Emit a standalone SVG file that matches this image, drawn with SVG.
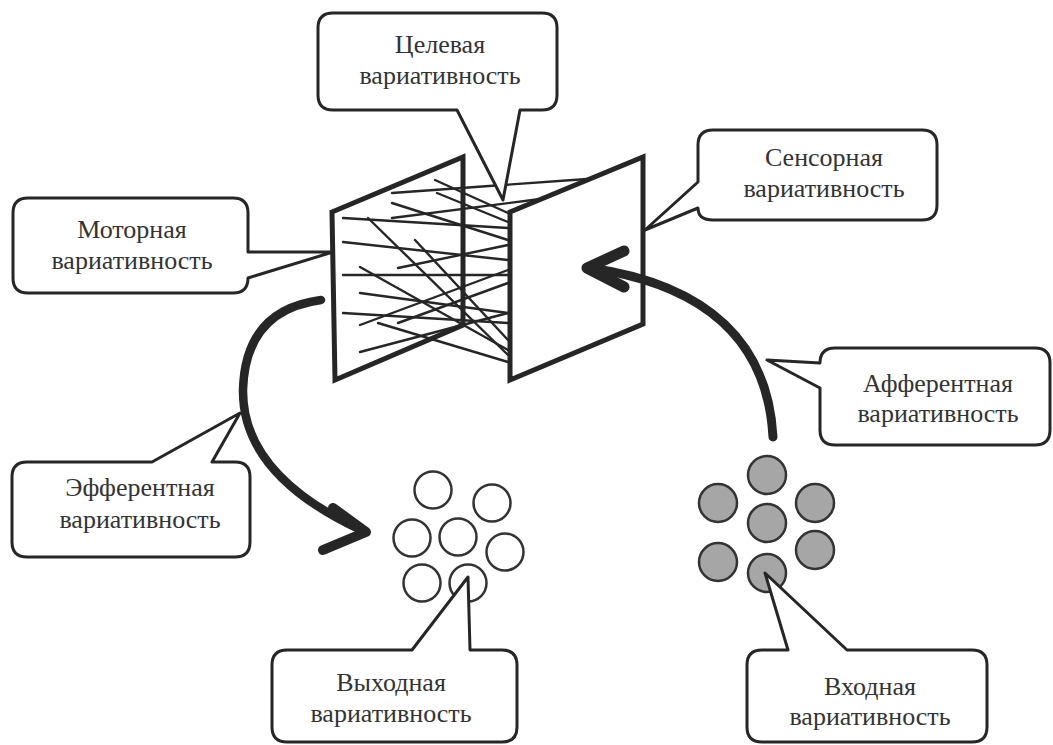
<svg xmlns="http://www.w3.org/2000/svg" width="1053" height="745" viewBox="0 0 1053 745">
<style>
.bg{fill:#ffffff}
.call{fill:#ffffff;stroke:#262626;stroke-width:3;stroke-linejoin:round}
.lbl{font-family:"Liberation Serif","Times New Roman",serif;font-size:26px;fill:#333333;text-anchor:middle}
.panel{fill:none;stroke:#262626;stroke-width:5;stroke-linejoin:miter}
.panelw{fill:#ffffff;stroke:#262626;stroke-width:5;stroke-linejoin:miter}
.thin{stroke:#262626;stroke-width:2.4;fill:none;stroke-linecap:round}
.thick{stroke:#262626;fill:none;stroke-linecap:round;stroke-linejoin:round}
.cw{fill:#ffffff;stroke:#333333;stroke-width:2.5}
.cg{fill:#a6a6a6;stroke:#333333;stroke-width:2.5}
</style>
<rect class="bg" x="0" y="0" width="1053" height="745"/>

<g id="right-panel">
<polygon class="panelw" points="510,212 643,157 643,324 510,380"/>
</g>

<g id="left-panel">
<polygon class="panel" points="332,212 463,157 463,325 335,380"/>
</g>

<g id="connections">
<g id="fibers">
<line class="thin" x1="435" y1="180" x2="508" y2="213"/>
<line class="thin" x1="392" y1="193" x2="587" y2="179"/>
<line class="thin" x1="437" y1="193" x2="508" y2="222"/>
<line class="thin" x1="392" y1="203" x2="508" y2="240"/>
<line class="thin" x1="343" y1="218" x2="508" y2="228"/>
<line class="thin" x1="392" y1="218" x2="540" y2="199"/>
<line class="thin" x1="343" y1="242" x2="508" y2="260"/>
<line class="thin" x1="368" y1="218" x2="508" y2="355"/>
<line class="thin" x1="398" y1="268" x2="508" y2="245"/>
<line class="thin" x1="360" y1="267" x2="508" y2="350"/>
<line class="thin" x1="343" y1="275" x2="508" y2="275"/>
<line class="thin" x1="360" y1="293" x2="508" y2="313"/>
<line class="thin" x1="360" y1="325" x2="508" y2="270"/>
<line class="thin" x1="343" y1="313" x2="508" y2="323"/>
<line class="thin" x1="378" y1="323" x2="508" y2="362"/>
<line class="thin" x1="360" y1="352" x2="508" y2="313"/>
<line class="thin" x1="398" y1="323" x2="508" y2="283"/>
<line class="thin" x1="415" y1="240" x2="508" y2="340"/>
</g>
<g id="efferent-arrow">
<path class="thick" stroke-width="8.5" d="M321,300 Q245,310 243,390 Q242,475 363,531"/>
<path class="thick" stroke-width="10" d="M333,508 L366,532 L323,550"/>
</g>
<g id="afferent-arrow">
<path class="thick" stroke-width="9" d="M773,437 C768,345 710,285 590,268"/>
<path class="thick" stroke-width="11" d="M624,251 L587,268 L624,287"/>
</g>
</g>

<g id="output-neurons">
<circle class="cw" cx="433" cy="490" r="18.5"/>
<circle class="cw" cx="492" cy="503" r="18.5"/>
<circle class="cw" cx="412" cy="538" r="18.5"/>
<circle class="cw" cx="458" cy="537" r="18.5"/>
<circle class="cw" cx="505" cy="552" r="18.5"/>
<circle class="cw" cx="422" cy="583" r="18.5"/>
<circle class="cw" cx="468" cy="583" r="18.5"/>
</g>

<g id="input-neurons">
<circle class="cg" cx="767" cy="475" r="19"/>
<circle class="cg" cx="718" cy="503" r="19"/>
<circle class="cg" cx="815" cy="503" r="19"/>
<circle class="cg" cx="767" cy="523" r="19"/>
<circle class="cg" cx="718" cy="562" r="19"/>
<circle class="cg" cx="815" cy="550" r="19"/>
<circle class="cg" cx="767" cy="573" r="19"/>
</g>

<g id="target-variability">
<path class="call" d="M333,13 H542 Q557,13 557,28 V95 Q557,110 542,110 H520 L503,200 L457,110 H333 Q318,110 318,95 V28 Q318,13 333,13 Z"/>
<text class="lbl" x="440" y="53">Целевая</text>
<text class="lbl" x="440" y="84">вариативность</text>
</g>

<g id="motor-variability">
<path class="call" d="M28,198 H233 Q248,198 248,213 V252 L333,252 L248,278 Q248,293 233,293 H28 Q13,293 13,278 V213 Q13,198 28,198 Z"/>
<text class="lbl" x="132" y="238">Моторная</text>
<text class="lbl" x="132" y="269">вариативность</text>
</g>

<g id="sensory-variability">
<path class="call" d="M713,130 H922 Q937,130 937,145 V205 Q937,220 922,220 H713 Q698,220 698,208 L645,230 L698,182 V145 Q698,130 713,130 Z"/>
<text class="lbl" x="824" y="166">Сенсорная</text>
<text class="lbl" x="824" y="197">вариативность</text>
</g>

<g id="efferent-variability">
<path class="call" d="M27,462 H152 L240,413 L212,462 H235 Q250,462 250,477 V542 Q250,557 235,557 H27 Q12,557 12,542 V477 Q12,462 27,462 Z"/>
<text class="lbl" x="140" y="496">Эфферентная</text>
<text class="lbl" x="140" y="528">вариативность</text>
</g>

<g id="afferent-variability">
<path class="call" d="M835,348 H1035 Q1050,348 1050,363 V430 Q1050,445 1035,445 H835 Q820,445 820,430 V388 L767,360 L820,363 Q820,348 835,348 Z"/>
<text class="lbl" x="938" y="392">Афферентная</text>
<text class="lbl" x="938" y="422">вариативность</text>
</g>

<g id="output-variability">
<path class="call" d="M287,650 H412 L468,577 L470,650 H502 Q517,650 517,665 V727 Q517,742 502,742 H287 Q272,742 272,727 V665 Q272,650 287,650 Z"/>
<text class="lbl" x="391" y="691">Выходная</text>
<text class="lbl" x="391" y="722">вариативность</text>
</g>

<g id="input-variability">
<path class="call" d="M762,650 H788 L765,573 L847,650 H972 Q987,650 987,665 V727 Q987,742 972,742 H762 Q747,742 747,727 V665 Q747,650 762,650 Z"/>
<text class="lbl" x="870" y="695">Входная</text>
<text class="lbl" x="870" y="725">вариативность</text>
</g>
</svg>
